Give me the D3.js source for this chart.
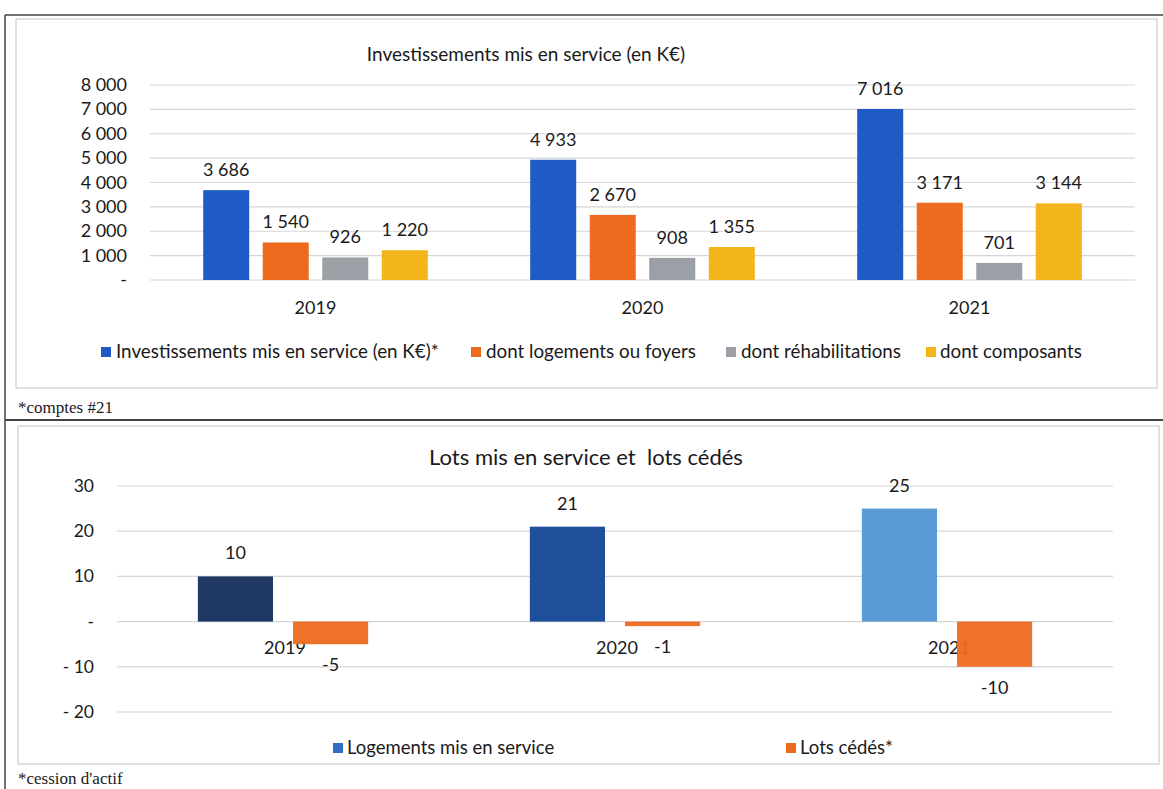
<html>
<head>
<meta charset="utf-8">
<script src="https://cdn.jsdelivr.net/npm/d3@7"></script>
<style>
  body { margin: 0; background: #ffffff; }
  text { font-family: Lato, "Open Sans", sans-serif; fill: #1a1a1a; }
</style>
</head>
<body>
<script>
// ---- data: chart 1 ----
var years = ["2019", "2020", "2021"];
var invSeries = ["Investissements mis en service (en K€)*", "dont logements ou foyers", "dont réhabilitations", "dont composants"];
var invTotal = [3686, 4933, 7016];
var invLogements = [1540, 2670, 3171];
var invRehab = [926, 908, 701];
var invComposants = [1220, 1355, 3144];
var invTicks = [0, 1000, 2000, 3000, 4000, 5000, 6000, 7000, 8000];

// ---- data: chart 2 ----
var lotsSeries = ["Logements mis en service", "Lots cédés*"];
var lotsMis = [10, 21, 25];
var lotsCedes = [-5, -1, -10];
var lotsTicks = [-20, -10, 0, 10, 20, 30];

var invColors = ["#1f5bc4", "#ee6a1f", "#9b9fa6", "#f2b51b"];
var misColors = ["#1f3864", "#1d4f9a", "#5b9bd5"];
var misLegend = "#2f6ec0";
var cedColor = "#ee6a1f";

var fr = d3.formatLocale({decimal: ",", thousands: " ", grouping: [3], currency: ["", " €"]});
var fmt = fr.format(",d");

var svg = d3.select("body").append("svg").attr("width", 1163).attr("height", 789);

// scanned frame
svg.append("rect").attr("x", 0).attr("y", 0).attr("width", 1163).attr("height", 789).attr("fill", "#fff");
svg.append("line").attr("x1", 5).attr("x2", 1163).attr("y1", 15).attr("y2", 15).attr("stroke", "#444").attr("stroke-width", 1.5);
svg.append("line").attr("x1", 5).attr("x2", 5).attr("y1", 15).attr("y2", 789).attr("stroke", "#444").attr("stroke-width", 1.5);
svg.append("line").attr("x1", 5).attr("x2", 1163).attr("y1", 420).attr("y2", 420).attr("stroke", "#444").attr("stroke-width", 2);
svg.append("rect").attr("x", 16).attr("y", 19).attr("width", 1141).attr("height", 369).attr("fill", "none").attr("stroke", "#c4c4c4");
svg.append("rect").attr("x", 18).attr("y", 426).attr("width", 1141).attr("height", 338).attr("fill", "none").attr("stroke", "#c4c4c4");

// ================= chart 1 =================
var g1 = svg.append("g");
var y1 = d3.scaleLinear().domain([0, 8000]).range([280, 85]);
var x0a = d3.scaleBand().domain(years).range([152, 1133]).padding(0);
var x1a = d3.scaleBand().domain(d3.range(4)).range([0, x0a.bandwidth()]).paddingInner(0.227).paddingOuter(0.86);

g1.append("text").attr("x", 526).attr("y", 61).attr("text-anchor", "middle").attr("font-size", "19px")
  .text("Investissements mis en service (en K€)");

// gridlines
g1.selectAll("line.grid").data(invTicks).enter().append("line")
  .attr("x1", 150).attr("x2", 1135)
  .attr("y1", function(d) { return y1(d); }).attr("y2", function(d) { return y1(d); })
  .attr("stroke", "#d6d6d6").attr("stroke-width", 1.2);

// y axis labels
g1.selectAll("text.yl").data(invTicks).enter().append("text")
  .attr("x", 127).attr("y", function(d) { return y1(d) + 6; })
  .attr("text-anchor", "end").attr("font-size", "18px")
  .text(function(d) { return d === 0 ? "-" : fmt(d); });

var invRows = [invTotal, invLogements, invRehab, invComposants];
invRows.forEach(function(vals, s) {
  years.forEach(function(yr, i) {
    var bx = x0a(yr) + x1a(s);
    g1.append("rect").attr("x", bx).attr("y", y1(vals[i]))
      .attr("width", x1a.bandwidth()).attr("height", y1(0) - y1(vals[i]))
      .attr("fill", invColors[s]);
    g1.append("text").attr("x", bx + x1a.bandwidth() / 2).attr("y", y1(vals[i]) - 14)
      .attr("text-anchor", "middle").attr("font-size", "18px").text(fmt(vals[i]));
  });
});

// category labels
g1.selectAll("text.cat").data(years).enter().append("text")
  .attr("x", function(d) { return x0a(d) + x0a.bandwidth() / 2; }).attr("y", 314)
  .attr("text-anchor", "middle").attr("font-size", "18px").text(function(d) { return d; });

// legend
var leg1x = [101, 471, 726, 926];
var leg1t = [116, 486, 741, 940];
invSeries.forEach(function(name, s) {
  g1.append("rect").attr("x", leg1x[s]).attr("y", 347).attr("width", 10).attr("height", 10).attr("fill", invColors[s]);
  g1.append("text").attr("x", leg1t[s]).attr("y", 358).attr("font-size", "18.8px").text(name);
});

svg.append("text").attr("x", 18).attr("y", 413).attr("font-size", "17px")
  .style("font-family", "'Liberation Serif', 'DejaVu Serif', serif").text("*comptes #21");

// ================= chart 2 =================
var g2 = svg.append("g");
var y2 = d3.scaleLinear().domain([-20, 30]).range([712, 486]);
var x0b = d3.scaleBand().domain(years).range([117, 1113]).padding(0);
var x1b = d3.scaleBand().domain(d3.range(2)).range([0, x0b.bandwidth()]).paddingInner(0.21).paddingOuter(0.85);

g2.append("text").attr("x", 586).attr("y", 465).attr("text-anchor", "middle").attr("font-size", "22px")
  .attr("xml:space", "preserve")
  .text("Lots mis en service et  lots cédés");

g2.selectAll("line.grid").data(lotsTicks).enter().append("line")
  .attr("x1", 117).attr("x2", 1113)
  .attr("y1", function(d) { return y2(d); }).attr("y2", function(d) { return y2(d); })
  .attr("stroke", "#d6d6d6").attr("stroke-width", 1.2);

g2.selectAll("text.yl").data(lotsTicks).enter().append("text")
  .attr("x", 94).attr("y", function(d) { return y2(d) + 6; })
  .attr("text-anchor", "end").attr("font-size", "17.5px")
  .text(function(d) { return d === 0 ? "-" : (d < 0 ? "- " + Math.abs(d) : d); });

// category labels (drawn before the bars, the negative bars overlap them)
g2.selectAll("text.cat").data(years).enter().append("text")
  .attr("x", function(d) { return x0b(d) + x0b.bandwidth() / 2 + 2; }).attr("y", 654)
  .attr("text-anchor", "middle").attr("font-size", "18px").text(function(d) { return d; });

years.forEach(function(yr, i) {
  var bx = x0b(yr) + x1b(0);
  g2.append("rect").attr("x", bx).attr("y", y2(lotsMis[i]))
    .attr("width", x1b.bandwidth()).attr("height", y2(0) - y2(lotsMis[i]))
    .attr("fill", misColors[i]);
  g2.append("text").attr("x", bx + x1b.bandwidth() / 2).attr("y", y2(lotsMis[i]) - 17)
    .attr("text-anchor", "middle").attr("font-size", "18px").text(lotsMis[i]);

  var cx = x0b(yr) + x1b(1);
  g2.append("rect").attr("x", cx).attr("y", y2(0))
    .attr("width", x1b.bandwidth()).attr("height", y2(lotsCedes[i]) - y2(0))
    .attr("fill", cedColor).attr("fill-opacity", 0.95);
  g2.append("text").attr("x", cx + x1b.bandwidth() / 2).attr("y", y2(lotsCedes[i]) + 27)
    .attr("text-anchor", "middle").attr("font-size", "18px").text(lotsCedes[i]);
});

var leg2x = [333, 786];
var leg2c = [misLegend, cedColor];
lotsSeries.forEach(function(name, s) {
  g2.append("rect").attr("x", leg2x[s]).attr("y", 743).attr("width", 10).attr("height", 10).attr("fill", leg2c[s]);
  g2.append("text").attr("x", leg2x[s] + 14).attr("y", 754).attr("font-size", "18.5px").text(name);
});

svg.append("text").attr("x", 18).attr("y", 784).attr("font-size", "17px")
  .style("font-family", "'Liberation Serif', 'DejaVu Serif', serif").text("*cession d'actif");
</script>
</body>
</html>
